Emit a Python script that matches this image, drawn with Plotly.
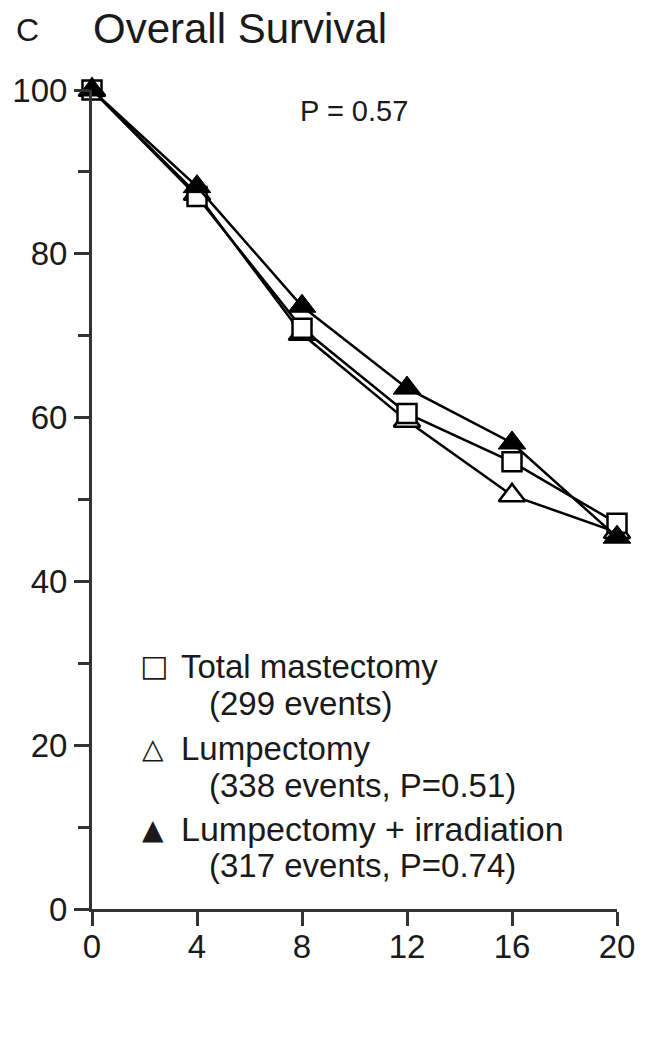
import plotly.graph_objects as go

# Data (years vs % overall survival)
years = [0, 4, 8, 12, 16, 20]
total_mastectomy = [100, 87.0, 70.9, 60.5, 54.6, 47.1]
lumpectomy = [100, 87.3, 70.2, 59.6, 50.5, 46.0]
lump_irradiation = [100, 88.2, 73.6, 63.6, 56.9, 45.4]

x_ticks = [0, 4, 8, 12, 16, 20]
y_ticks = [0, 20, 40, 60, 80, 100]

FONT = "Liberation Sans, Arial, Helvetica, sans-serif"
TXT = "#1a1a1a"
AX = "#333333"

fig = go.Figure()

fig.add_trace(go.Scatter(
    x=years, y=lumpectomy, mode="lines+markers", name="Lumpectomy",
    line=dict(color="black", width=2.5),
    marker=dict(symbol="triangle-up", size=23, color="white",
                line=dict(color="black", width=2.5)),
    cliponaxis=False, showlegend=False))
fig.add_trace(go.Scatter(
    x=years, y=total_mastectomy, mode="lines+markers", name="Total mastectomy",
    line=dict(color="black", width=2.5),
    marker=dict(symbol="square", size=19, color="white",
                line=dict(color="black", width=2.5)),
    cliponaxis=False, showlegend=False))
fig.add_trace(go.Scatter(
    x=years, y=lump_irradiation, mode="lines+markers", name="Lumpectomy + irradiation",
    line=dict(color="black", width=2.5),
    marker=dict(symbol="triangle-up", size=24, color="black",
                line=dict(color="black", width=1)),
    cliponaxis=False, showlegend=False))

L, R, T, B = 92, 38, 90, 129
W, H = 655, 1038
PW, PH = W - L - R, H - T - B


def px(xp):
    return (xp - L) / PW


def py(yp):
    return (H - B - yp) / PH


annots = []


def txt(text, xp, yp, size, xanchor="left", family=FONT):
    annots.append(dict(text=text, x=px(xp), y=py(yp), xref="paper", yref="paper",
                       xanchor=xanchor, yanchor="middle", showarrow=False,
                       font=dict(family=family, size=size, color=TXT)))


txt("C", 14, 30, 32)
txt("Overall Survival", 91, 28, 42)
txt("P = 0.57", 298, 111, 29)

SYM = "DejaVu Sans, sans-serif"
txt("□", 154, 665, 30, xanchor="center", family=SYM)
txt("Total mastectomy", 179, 666, 33)
txt("(299 events)", 207, 703, 33)
txt("△", 153, 748, 28, xanchor="center", family=SYM)
txt("Lumpectomy", 179, 748, 33)
txt("(338 events, P=0.51)", 207, 785, 33)
txt("▲", 153, 829, 28, xanchor="center", family=SYM)
txt("Lumpectomy + irradiation", 179, 829, 34)
txt("(317 events, P=0.74)", 207, 865, 33)

fig.update_layout(
    width=W, height=H,
    margin=dict(l=L, r=R, t=T, b=B, pad=0),
    paper_bgcolor="white", plot_bgcolor="white",
    font=dict(family=FONT, color=TXT),
    annotations=annots,
    xaxis=dict(range=[0, 20], tickvals=x_ticks, ticktext=[str(v) for v in x_ticks],
               ticks="outside", ticklen=14, tickwidth=2.5, tickcolor=AX,
               ticklabelstandoff=-8,
               showline=True, linewidth=3, linecolor=AX,
               showgrid=False, zeroline=False,
               tickfont=dict(size=33, color=TXT, family=FONT)),
    yaxis=dict(range=[0, 100], tickvals=y_ticks, ticktext=[str(v) for v in y_ticks],
               ticks="outside", ticklen=15, tickwidth=2.5, tickcolor=AX,
               minor=dict(tick0=0, dtick=10, ticks="outside", ticklen=11,
                          tickwidth=2.5, tickcolor=AX),
               showline=True, linewidth=3, linecolor=AX,
               showgrid=False, zeroline=False,
               tickfont=dict(size=33, color=TXT, family=FONT)),
)

fig.write_html("out.html")
